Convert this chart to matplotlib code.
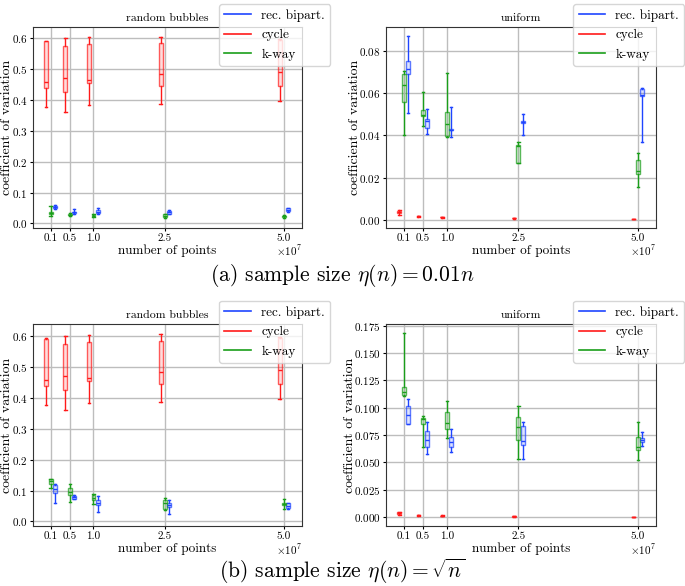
import matplotlib
matplotlib.use("Agg")
import matplotlib.pyplot as plt
from matplotlib.lines import Line2D
from matplotlib.ticker import MultipleLocator, FuncFormatter

plt.rcParams['font.family'] = 'serif'
plt.rcParams['font.serif'] = ['cmr10']
plt.rcParams['mathtext.fontset'] = 'cm'
plt.rcParams['axes.unicode_minus'] = False
plt.rcParams['axes.formatter.use_mathtext'] = True

# number of points (x positions)
n_points = [1e6, 5e6, 1e7, 2.5e7, 5e7]
methods = ['rec. bipart.', 'cycle', 'k-way']
colors = ['#1f45ff', '#ff1a1a', '#1a9e1a']

# box stats per point: [whisker low, q1, median, q3, whisker high]
# random bubbles, eta(n) = 0.01 n
rb_a_bipart = [[0.048, 0.051, 0.054, 0.057, 0.059],
               [0.032, 0.034, 0.036, 0.038, 0.047],
               [0.030, 0.033, 0.037, 0.043, 0.051],
               [0.030, 0.032, 0.036, 0.040, 0.042],
               [0.036, 0.041, 0.045, 0.049, 0.050]]
rb_cycle = [[0.376, 0.439, 0.458, 0.591, 0.593],
            [0.360, 0.425, 0.472, 0.575, 0.600],
            [0.383, 0.455, 0.464, 0.582, 0.603],
            [0.386, 0.445, 0.484, 0.585, 0.606],
            [0.397, 0.447, 0.490, 0.596, 0.598]]
rb_a_kway = [[0.024, 0.032, 0.034, 0.036, 0.057],
             [0.024, 0.026, 0.028, 0.031, 0.033],
             [0.021, 0.023, 0.025, 0.027, 0.029],
             [0.018, 0.022, 0.025, 0.029, 0.031],
             [0.019, 0.021, 0.023, 0.025, 0.027]]

# uniform, eta(n) = 0.01 n
uni_a_bipart = [[0.0506, 0.0693, 0.0716, 0.0754, 0.0875],
                [0.0409, 0.0436, 0.0471, 0.0477, 0.0526],
                [0.0391, 0.0425, 0.0428, 0.0433, 0.0534],
                [0.0404, 0.0461, 0.0464, 0.0469, 0.0501],
                [0.0369, 0.0590, 0.0593, 0.0620, 0.0627]]
uni_a_cycle = [[0.0022, 0.0030, 0.0035, 0.0040, 0.0045],
               [0.0014, 0.0015, 0.0016, 0.0017, 0.0018],
               [0.0009, 0.0010, 0.0011, 0.0012, 0.0013],
               [0.0005, 0.0006, 0.0006, 0.0007, 0.0007],
               [0.0003, 0.0004, 0.0004, 0.0005, 0.0005]]
uni_a_kway = [[0.0404, 0.0558, 0.0639, 0.0693, 0.0706],
              [0.0447, 0.0493, 0.0498, 0.0520, 0.0609],
              [0.0393, 0.0398, 0.0453, 0.0514, 0.0698],
              [0.0267, 0.0267, 0.0350, 0.0355, 0.0369],
              [0.0153, 0.0218, 0.0232, 0.0283, 0.0317]]

# random bubbles, eta(n) = sqrt(n)
rb_b_bipart = [[0.060, 0.092, 0.106, 0.117, 0.120],
               [0.073, 0.074, 0.078, 0.083, 0.085],
               [0.031, 0.052, 0.060, 0.068, 0.081],
               [0.024, 0.047, 0.053, 0.058, 0.068],
               [0.040, 0.044, 0.050, 0.058, 0.061]]
rb_b_kway = [[0.108, 0.122, 0.130, 0.136, 0.138],
             [0.063, 0.085, 0.095, 0.108, 0.120],
             [0.055, 0.070, 0.077, 0.085, 0.089],
             [0.036, 0.040, 0.059, 0.068, 0.076],
             [0.040, 0.052, 0.056, 0.059, 0.072]]

# uniform, eta(n) = sqrt(n)
uni_b_bipart = [[0.0848, 0.0854, 0.0937, 0.1017, 0.1078],
                [0.0578, 0.0637, 0.0701, 0.0790, 0.0873],
                [0.0594, 0.0646, 0.0686, 0.0735, 0.0808],
                [0.0532, 0.0658, 0.0694, 0.0832, 0.0869],
                [0.0655, 0.0685, 0.0710, 0.0728, 0.0777]]
uni_b_cycle = [[0.0021, 0.0030, 0.0037, 0.0045, 0.0052],
               [0.0015, 0.0016, 0.0018, 0.0019, 0.0020],
               [0.0011, 0.0012, 0.0014, 0.0015, 0.0016],
               [0.0005, 0.0006, 0.0007, 0.0008, 0.0008],
               [0.0003, 0.0004, 0.0004, 0.0005, 0.0005]]
uni_b_kway = [[0.1106, 0.1121, 0.1140, 0.1186, 0.1680],
              [0.0640, 0.0854, 0.0894, 0.0910, 0.0925],
              [0.0725, 0.0808, 0.0860, 0.0965, 0.1066],
              [0.0532, 0.0707, 0.0826, 0.0912, 0.1020],
              [0.0523, 0.0615, 0.0646, 0.0737, 0.0869]]

offsets = [9e5, -9e5, 0.0]
box_w = 8e5


def draw_panel(ax, title, series, ystep, ylim, ylab_x):
    for vals, off, c in zip(series, offsets, colors):
        stats = [dict(whislo=v[0], q1=v[1], med=v[2], q3=v[3], whishi=v[4])
                 for v in vals]
        pos = [x + off for x in n_points]
        bp = ax.bxp(stats, positions=pos, widths=box_w, patch_artist=True,
                    showfliers=False, manage_ticks=False,
                    boxprops=dict(edgecolor=c, linewidth=1.0),
                    whiskerprops=dict(color=c, linewidth=1.0),
                    capprops=dict(color=c, linewidth=1.0),
                    medianprops=dict(color=c, linewidth=1.0),
                    capwidths=box_w * 0.6)
        for b in bp['boxes']:
            b.set_facecolor(matplotlib.colors.to_rgba(c, 0.15))
            b.set_edgecolor(matplotlib.colors.to_rgba(c, 0.7))
    ax.set_xticks(n_points)
    ax.xaxis.set_major_formatter(FuncFormatter(lambda v, p: '%.1f' % (v / 1e7)))
    ax.text(1.0, -0.115, r'$\times10^{7}$', transform=ax.transAxes,
            ha='right', va='center', fontsize=8)
    ax.set_xlim(-2.7e6, 5.38e7)
    ax.set_ylim(*ylim)
    ax.yaxis.set_major_locator(MultipleLocator(ystep))
    ax.grid(True, color='#bdbdbd', linewidth=1.0)
    ax.set_axisbelow(True)
    for s in ax.spines.values():
        s.set_color('#333333')
    ax.tick_params(labelsize=8, length=2.5, pad=1.5)
    ax.set_title(title, fontsize=8.5, pad=4)
    ax.set_xlabel('number of points', fontsize=9.5, labelpad=1)
    ax.set_ylabel('coefficient of variation', fontsize=10)
    ax.yaxis.set_label_coords(ylab_x, 0.5)
    handles = [Line2D([], [], color=c, lw=1.2) for c in colors]
    ax.legend(handles, methods, loc='upper right', bbox_to_anchor=(1.105, 1.115),
              fontsize=9.5, framealpha=0.8, borderaxespad=0.0, labelspacing=0.55)


fig = plt.figure(figsize=(6.85, 5.86), dpi=100)
W, H = 685.0, 586.0
ax1 = fig.add_axes([33 / W, (H - 228) / H, 269 / W, 201 / H])
ax2 = fig.add_axes([386 / W, (H - 228) / H, 270 / W, 201 / H])
ax3 = fig.add_axes([33 / W, (H - 526) / H, 269 / W, 202 / H])
ax4 = fig.add_axes([386 / W, (H - 526) / H, 270 / W, 202 / H])

draw_panel(ax1, 'random bubbles', [rb_a_bipart, rb_cycle, rb_a_kway], 0.1, (-0.015, 0.637), -0.074)
draw_panel(ax2, 'uniform', [uni_a_bipart, uni_a_cycle, uni_a_kway], 0.02, (-0.004, 0.0916), -0.093)
draw_panel(ax3, 'random bubbles', [rb_b_bipart, rb_cycle, rb_b_kway], 0.1, (-0.015, 0.64), -0.074)
draw_panel(ax4, 'uniform', [uni_b_bipart, uni_b_cycle, uni_b_kway], 0.025, (-0.008, 0.1765), -0.111)

fig.text(0.5, 1 - 281 / H, r'(a) sample size $\eta(n) = 0.01n$', ha='center', va='baseline', fontsize=15.5)
fig.text(0.5, 1 - 578 / H, r'(b) sample size $\eta(n) = \sqrt{n}$', ha='center', va='baseline', fontsize=15.5)

fig.savefig('out.png', dpi=100)
